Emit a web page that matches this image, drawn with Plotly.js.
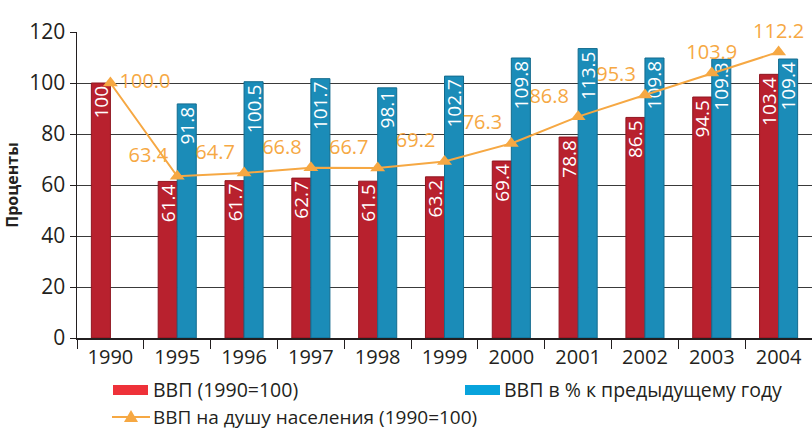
<!DOCTYPE html>
<html><head><meta charset="utf-8">
<script src="https://cdn.plot.ly/plotly-3.0.1.min.js"></script>
<style>html,body{margin:0;padding:0;background:#fff}</style>
</head><body><div id="chart" style="width:812px;height:430px"></div>
<script>
const years = ['1990','1995','1996','1997','1998','1999','2000','2001','2002','2003','2004'];
const gdpIndex = [100, 61.4, 61.7, 62.7, 61.5, 63.2, 69.4, 78.8, 86.5, 94.5, 103.4];
const gdpPrevYear = [null, 91.8, 100.5, 101.7, 98.1, 102.7, 109.8, 113.5, 109.8, 109.3, 109.4];
const gdpPerCapita = [100.0, 63.4, 64.7, 66.8, 66.7, 69.2, 76.3, 86.8, 95.3, 103.9, 112.2];
const gdpIndexLabels = ['100','61.4','61.7','62.7','61.5','63.2','69.4','78.8','86.5','94.5','103.4'];
const gdpPrevLabels = ['','91.8','100.5','101.7','98.1','102.7','109.8','113.5','109.8','109.3','109.4'];
const perCapitaLabels = ['100.0','63.4','64.7','66.8','66.7','69.2','76.3','86.8','95.3','103.9','112.2'];
const seriesNames = ['ВВП (1990=100)', 'ВВП в % к предыдущему году', 'ВВП на душу населения (1990=100)'];
const yTitle = 'Проценты';

const FONT = '"Open Sans", "Noto Sans", sans-serif';
const RED = '#b8212e', BLUE = '#1b8cb8', ORANGE = '#f6a843';
const L = 77, T = 32, W = 812, H = 430, B = 92;
const pw = W - L, ph = H - T - B;
const fx = p => (p - L) / pw;
const fy = p => ((H - B) - p) / ph;

const lineTextPos = v => v.map((_, i) => i === 0 ? 'middle right' : (i >= 9 ? 'top center' : 'top left'));

const traces = [
  {
    type: 'bar', name: seriesNames[0], x: years, y: gdpIndex,
    marker: {color: RED, line: {color: '#8f1621', width: 1}},
    text: gdpIndexLabels, texttemplate: '%{text}', textposition: 'inside',
    insidetextanchor: 'end', textangle: -90, constraintext: 'none',
    textfont: {family: FONT, size: 19, color: '#ffffff'},
    showlegend: false, hoverinfo: 'x+y'
  },
  {
    type: 'bar', name: seriesNames[1], x: years, y: gdpPrevYear,
    marker: {color: BLUE, line: {color: '#136b8e', width: 1}},
    text: gdpPrevLabels, texttemplate: '%{text}', textposition: 'inside',
    insidetextanchor: 'end', textangle: -90, constraintext: 'none',
    textfont: {family: FONT, size: 19, color: '#ffffff'},
    showlegend: false, hoverinfo: 'x+y'
  },
  {
    type: 'scatter', mode: 'lines+markers+text', name: seriesNames[2], x: years, y: gdpPerCapita,
    line: {color: ORANGE, width: 2},
    marker: {symbol: 'triangle-up', size: 13, color: ORANGE},
    text: perCapitaLabels, textposition: lineTextPos(gdpPerCapita),
    textfont: {family: FONT, size: 20, color: ORANGE},
    cliponaxis: false, showlegend: false
  }
];

const shapes = [
  {type: 'rect', xref: 'paper', yref: 'paper', x0: fx(113), x1: fx(148), y0: fy(395), y1: fy(385), fillcolor: '#ee3139', line: {width: 0}},
  {type: 'rect', xref: 'paper', yref: 'paper', x0: fx(465), x1: fx(500), y0: fy(395), y1: fy(385), fillcolor: '#08a3dc', line: {width: 0}},
  {type: 'line', xref: 'paper', yref: 'paper', x0: fx(112), x1: fx(150), y0: fy(417), y1: fy(417), line: {color: ORANGE, width: 2}},
  {type: 'path', xref: 'paper', yref: 'paper',
   path: `M ${fx(124)} ${fy(422)} L ${fx(138)} ${fy(422)} L ${fx(131)} ${fy(410)} Z`,
   fillcolor: ORANGE, line: {width: 0}}
];
const annotations = [
  {xref: 'paper', yref: 'paper', x: fx(151), y: fy(389.5), xanchor: 'left', yanchor: 'middle', showarrow: false,
   text: seriesNames[0], font: {family: FONT, size: 19.5, color: '#231f20'}},
  {xref: 'paper', yref: 'paper', x: fx(502), y: fy(389.5), xanchor: 'left', yanchor: 'middle', showarrow: false,
   text: seriesNames[1], font: {family: FONT, size: 19.5, color: '#231f20'}},
  {xref: 'paper', yref: 'paper', x: fx(151), y: fy(416.5), xanchor: 'left', yanchor: 'middle', showarrow: false,
   text: seriesNames[2], font: {family: FONT, size: 19, color: '#231f20'}}
];

const layout = {
  width: W, height: H,
  margin: {l: L, r: 0, t: T, b: B, pad: 0},
  paper_bgcolor: '#ffffff', plot_bgcolor: '#ffffff',
  font: {family: FONT, color: '#231f20'},
  barmode: 'group', bargap: 0.43, bargroupgap: 0,
  showlegend: false,
  xaxis: {
    type: 'category', range: [-0.5, 10.5], autorange: false,
    showgrid: false, zeroline: false,
    showline: true, linecolor: '#231f20', linewidth: 1.5,
    ticks: 'outside', tickson: 'boundaries', ticklen: 9, tickcolor: '#231f20', tickwidth: 1,
    tickfont: {family: FONT, size: 20, color: '#231f20'}
  },
  yaxis: {
    range: [0, 120], autorange: false, dtick: 20, showgrid: true, gridcolor: '#3a3a3a', gridwidth: 1,
    zeroline: false, showline: true, linecolor: '#231f20', linewidth: 1.5,
    ticks: 'outside', ticklen: 6, tickcolor: '#231f20',
    tickfont: {family: FONT, size: 21, color: '#231f20'},
    title: {text: yTitle, standoff: 6, font: {family: FONT, size: 16, color: '#231f20', weight: 'bold'}}
  },
  shapes: shapes,
  annotations: annotations
};

Plotly.newPlot('chart', traces, layout, {displayModeBar: false, staticPlot: true});
</script></body></html>
